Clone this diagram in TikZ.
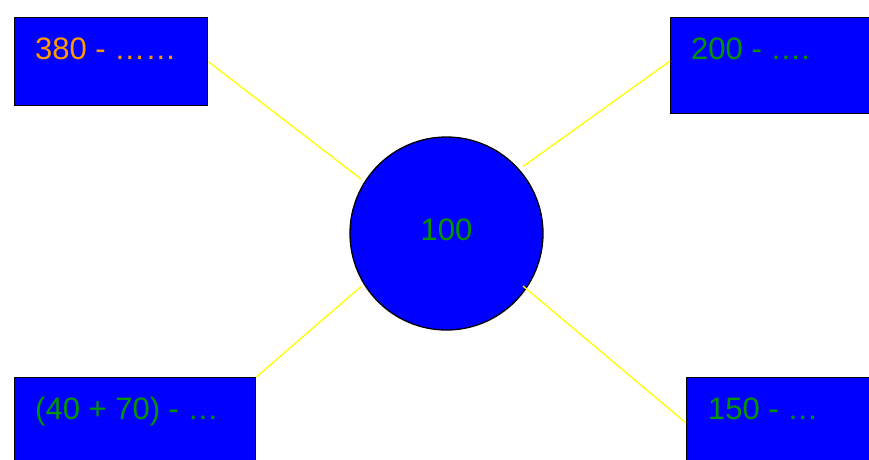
\documentclass[tikz,border=0pt]{standalone}
\usepackage{fontspec}
\setmainfont{Liberation Sans}
\definecolor{boxblue}{RGB}{0,0,255}
\definecolor{txtgreen}{RGB}{0,150,0}
\definecolor{txtorange}{RGB}{255,153,0}
\definecolor{linkyellow}{RGB}{255,255,0}
\begin{document}
\begin{tikzpicture}[x=1pt,y=-1pt,
  box/.style={draw=black,line width=1.3pt,fill=boxblue,rectangle,inner sep=0pt,anchor=north west},
  hub/.style={draw=black,line width=1.3pt,fill=boxblue,circle,inner sep=0pt,minimum size=193pt,
    font=\fontsize{31}{37}\selectfont,text=txtgreen,text depth=8pt},
  lbl/.style={anchor=base west,inner sep=0pt,font=\fontsize{31}{37}\selectfont},
  link/.style={draw=linkyellow,line width=1.3pt}]
\clip (0,0) rectangle (869,459);
\fill[white] (0,0) rectangle (869,459);
% boxes
\node[box,minimum width=193pt,minimum height=88pt] (b1) at (14,17) {};
\node[box,minimum width=240pt,minimum height=96pt] (b2) at (670,17) {};
\node[box,minimum width=241pt,minimum height=100pt] (b3) at (14,377) {};
\node[box,minimum width=220pt,minimum height=100pt] (b4) at (686,377) {};
% texts
\node[lbl,text=txtorange] (t1) at (35,59) {380 - ……};
\node[lbl,text=txtgreen] (t2) at (691,59) {200 - ….};
\node[lbl,text=txtgreen] (t3) at (35,419) {(40 + 70) - …};
\node[lbl,text=txtgreen] (t4) at (708,419) {150 - …};
% hub
\node[hub] (c) at (446.5,233.5) {100};
% connector end points
\coordinate (e1) at (361,179);
\coordinate (e2) at (523,166.5);
\coordinate (e3) at (361,286.5);
\coordinate (e4) at (523,286);
\coordinate (p2) at (670,61);
\coordinate (p4) at (686,423);
\draw[link] (b1.east) -- (e1);
\draw[link] (p2) -- (e2);
\draw[link] (b3.north east) -- (e3);
\draw[link] (p4) -- (e4);
\end{tikzpicture}
\end{document}
